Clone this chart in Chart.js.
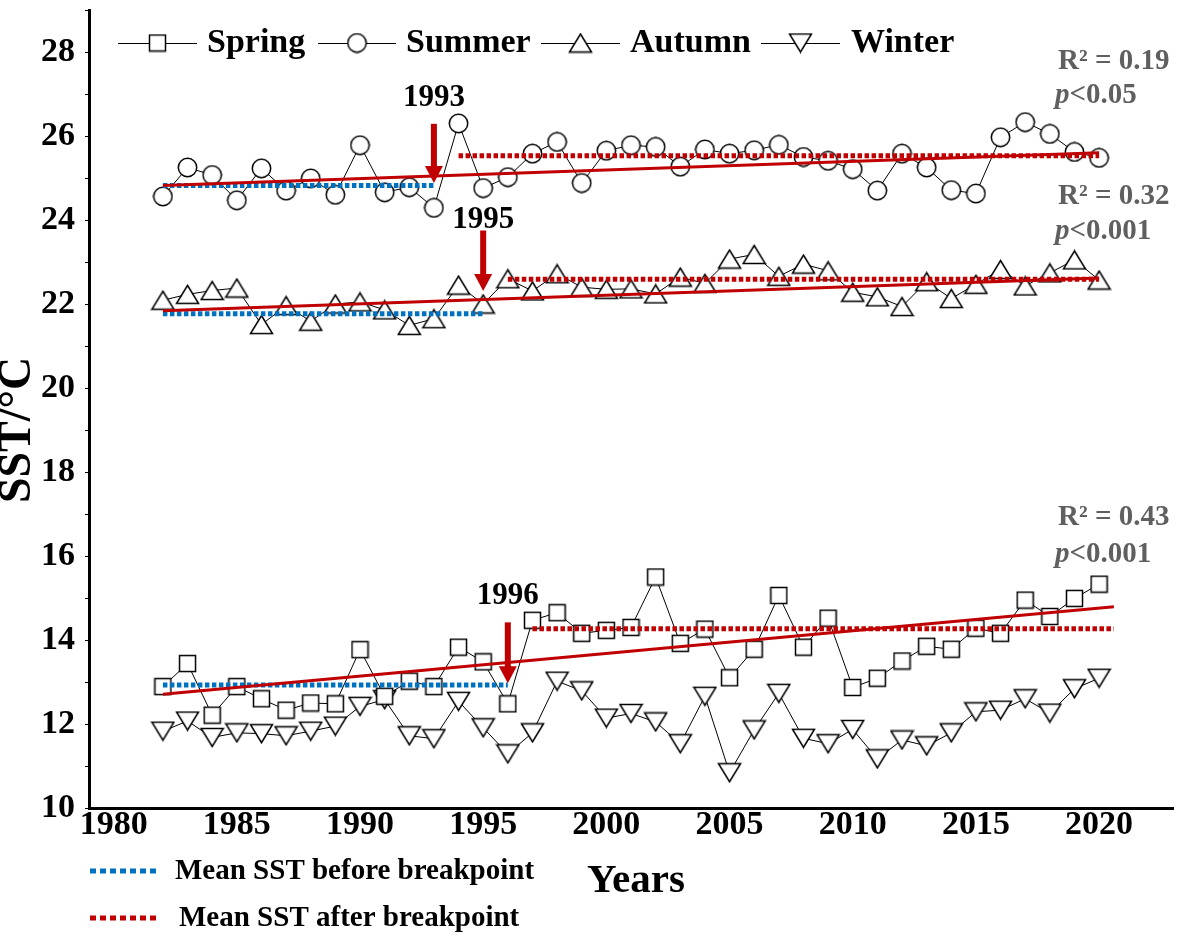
<!DOCTYPE html>
<html><head><meta charset="utf-8">
<script src="https://cdn.jsdelivr.net/npm/chart.js@4.4.0/dist/chart.umd.min.js"></script>
<style>html,body{margin:0;padding:0;background:#fff;}canvas{display:block}</style>
</head><body>
<canvas id="c" width="1183" height="936" style="width:1183px;height:936px"></canvas>
<script>
// ---------------- data ----------------
const years = [1982,1983,1984,1985,1986,1987,1988,1989,1990,1991,1992,1993,1994,1995,1996,1997,1998,1999,2000,
  2001,2002,2003,2004,2005,2006,2007,2008,2009,2010,2011,2012,2013,2014,2015,2016,2017,2018,2019,2020];
const spring = [12.89,13.44,12.21,12.89,12.60,12.33,12.50,12.48,13.77,12.66,13.02,12.89,13.83,13.48,12.48,14.47,14.65,14.16,14.23,
  14.30,15.50,13.92,14.26,13.10,13.78,15.06,13.83,14.52,12.87,13.09,13.50,13.85,13.78,14.28,14.16,14.95,14.56,14.99,15.33];
const summer = [24.56,25.25,25.07,24.47,25.23,24.70,24.99,24.60,25.78,24.66,24.78,24.29,26.30,24.76,25.02,25.58,25.86,24.88,25.65,
  25.78,25.74,25.27,25.68,25.58,25.66,25.79,25.50,25.41,25.21,24.70,25.58,25.25,24.71,24.63,25.97,26.33,26.05,25.62,25.48];
const autumn = [22.09,22.23,22.32,22.38,21.51,21.96,21.59,22.00,22.05,21.86,21.49,21.65,22.45,22.00,22.60,22.31,22.72,22.40,22.35,
  22.36,22.24,22.64,22.49,23.07,23.18,22.66,22.95,22.79,22.28,22.17,21.94,22.53,22.13,22.47,22.82,22.43,22.74,23.05,22.57];
const winter = [11.83,12.07,11.68,11.79,11.77,11.72,11.83,11.95,12.42,12.58,11.72,11.65,12.54,11.91,11.29,11.79,13.02,12.79,12.14,
  12.25,12.05,11.53,12.66,10.84,11.86,12.73,11.66,11.53,11.87,11.17,11.62,11.48,11.79,12.29,12.33,12.60,12.26,12.84,13.09];

// linear trends (start/end)
const trendSpringX = [1982, 2020.6], trendSpringY = [12.71, 14.79];
const trendSummerX = [1982, 2020],   trendSummerY = [24.82, 25.60];
const trendAutumnX = [1982, 2020],   trendAutumnY = [21.84, 22.62];
// mean before / after breakpoint
const springBeforeX = [1982, 1996], springBeforeY = [12.93, 12.93];
const springAfterX  = [1997, 2020.6], springAfterY = [14.27, 14.27];
const summerBeforeX = [1982, 1993], summerBeforeY = [24.82, 24.82];
const summerAfterX  = [1994, 2020], summerAfterY  = [25.53, 25.53];
const autumnBeforeX = [1982, 1995], autumnBeforeY = [21.77, 21.77];
const autumnAfterX  = [1996, 2020], autumnAfterY  = [22.59, 22.59];

// breakpoints
const breakYears = [1993, 1995, 1996];
const breakArrowTop = [26.29, 23.75, 14.42];
const breakArrowTip = [24.88, 22.31, 12.97];
const breakLabelY = [26.91, 24.01, 15.05];

const statR2 = ['R\u00B2 = 0.19', 'R\u00B2 = 0.32', 'R\u00B2 = 0.43'];
const statP = ['<0.05', '<0.001', '<0.001'];

const xTickLabels = [1980,1985,1990,1995,2000,2005,2010,2015,2020];
const yTickLabels = [10,12,14,16,18,20,22,24,26,28];
const seriesNames = ['Spring','Summer','Autumn','Winter'];

// ---------------- styles ----------------
const FONT = '"Liberation Serif","Times New Roman",serif';
const RED = '#C00000', BLUE = '#0070C0', GRAY = '#5f5f5f';
const DOT = [4.5, 2.5];

function marker(type) {
  const c = document.createElement('canvas');
  const g = c.getContext('2d');
  if (type === 'square') {
    c.width = 19; c.height = 19;
    g.fillStyle = '#fff'; g.strokeStyle = '#000'; g.lineWidth = 1.5;
    g.fillRect(1.5, 1.5, 16, 16); g.strokeRect(1.5, 1.5, 16, 16);
  } else if (type === 'circle') {
    c.width = 21; c.height = 21;
    g.fillStyle = '#fff'; g.strokeStyle = '#000'; g.lineWidth = 1.5;
    g.beginPath(); g.arc(10.5, 10.5, 9.2, 0, Math.PI * 2); g.fill(); g.stroke();
  } else {
    c.width = 25; c.height = 21;
    g.fillStyle = '#fff'; g.strokeStyle = '#000'; g.lineWidth = 1.5;
    g.beginPath();
    if (type === 'up') { g.moveTo(12.5, 1.5); g.lineTo(23.5, 19.5); g.lineTo(1.5, 19.5); }
    else { g.moveTo(1.5, 1.5); g.lineTo(23.5, 1.5); g.lineTo(12.5, 19.5); }
    g.closePath(); g.fill(); g.stroke();
  }
  return c;
}
const markers = [marker('square'), marker('circle'), marker('up'), marker('down')];

const pts = (xs, ys) => xs.map((x, i) => ({x: x, y: ys[i]}));

function series(name, vals, m) {
  return {label: name, data: pts(years, vals), borderColor: '#000', borderWidth: 1,
    pointStyle: m, pointRadius: 9, pointHoverRadius: 9, order: 3, fill: false, tension: 0};
}
function lineDs(xs, ys, color, width, dash, order) {
  return {label: '', data: pts(xs, ys), borderColor: color, borderWidth: width, borderDash: dash,
    borderCapStyle: 'butt', pointRadius: 0, pointHoverRadius: 0, order: order, fill: false};
}

const datasets = [
  series(seriesNames[0], spring, markers[0]),
  series(seriesNames[1], summer, markers[1]),
  series(seriesNames[2], autumn, markers[2]),
  series(seriesNames[3], winter, markers[3]),
  lineDs(springBeforeX, springBeforeY, BLUE, 5, DOT, 2),
  lineDs(summerBeforeX, summerBeforeY, BLUE, 5, DOT, 2),
  lineDs(autumnBeforeX, autumnBeforeY, BLUE, 5, DOT, 2),
  lineDs(springAfterX, springAfterY, RED, 5, DOT, 2),
  lineDs(summerAfterX, summerAfterY, RED, 5, DOT, 2),
  lineDs(autumnAfterX, autumnAfterY, RED, 5, DOT, 2),
  lineDs(trendSpringX, trendSpringY, RED, 3, [], 1),
  lineDs(trendSummerX, trendSummerY, RED, 3, [], 1),
  lineDs(trendAutumnX, trendAutumnY, RED, 3, [], 1)
];

function bold(size, italic) { return (italic ? 'italic ' : '') + 'bold ' + size + 'px ' + FONT; }

const extras = {
  id: 'extras',
  afterDatasetsDraw(chart) {
    const ctx = chart.ctx, xs = chart.scales.x, ys = chart.scales.y;
    ctx.save();
    breakYears.forEach((yr, i) => {
      const x = xs.getPixelForValue(yr);
      const yTop = ys.getPixelForValue(breakArrowTop[i]);
      const yTip = ys.getPixelForValue(breakArrowTip[i]);
      const headLen = 17, shaftW = 6, headW = 18;
      ctx.fillStyle = RED;
      ctx.fillRect(x - shaftW / 2, yTop, shaftW, yTip - headLen - yTop + 1);
      ctx.beginPath();
      ctx.moveTo(x - headW / 2, yTip - headLen);
      ctx.lineTo(x + headW / 2, yTip - headLen);
      ctx.lineTo(x, yTip);
      ctx.closePath(); ctx.fill();
      ctx.fillStyle = '#000';
      ctx.font = bold(31);
      ctx.textAlign = 'center'; ctx.textBaseline = 'middle';
      ctx.fillText(String(yr), x, ys.getPixelForValue(breakLabelY[i]));
    });
    ctx.restore();
  },
  afterDraw(chart) {
    const ctx = chart.ctx;
    ctx.save();
    // top legend
    const legendItems = [
      {x0: 118, x1: 197, tx: 207},
      {x0: 318, x1: 396, tx: 406},
      {x0: 541, x1: 620, tx: 630},
      {x0: 761, x1: 840, tx: 851}
    ];
    const ly = 43;
    legendItems.forEach((it, i) => {
      ctx.strokeStyle = '#000'; ctx.lineWidth = 1;
      ctx.beginPath(); ctx.moveTo(it.x0, ly + 0.5); ctx.lineTo(it.x1, ly + 0.5); ctx.stroke();
      const m = markers[i];
      ctx.drawImage(m, (it.x0 + it.x1) / 2 - m.width / 2, ly - m.height / 2);
      ctx.fillStyle = '#000'; ctx.font = bold(34);
      ctx.textAlign = 'left'; ctx.textBaseline = 'middle';
      ctx.fillText(seriesNames[i], it.tx, ly);
    });
    // statistics
    const statY = [[62, 96], [197, 232], [518, 555]];
    statY.forEach((p, i) => {
      ctx.fillStyle = GRAY; ctx.textAlign = 'left'; ctx.textBaseline = 'middle';
      ctx.font = bold(29);
      ctx.fillText(statR2[i], 1058, p[0]);
      ctx.font = bold(29, true);
      ctx.fillText('p', 1055, p[1]);
      const w = ctx.measureText('p').width;
      ctx.font = bold(29);
      ctx.fillText(statP[i], 1055 + w, p[1]);
    });
    // axis titles
    ctx.fillStyle = '#000';
    ctx.font = bold(41); ctx.textAlign = 'center'; ctx.textBaseline = 'middle';
    ctx.fillText('Years', 636, 881);
    ctx.save();
    ctx.translate(18, 430); ctx.rotate(-Math.PI / 2);
    ctx.font = bold(46);
    ctx.fillText('SST/\u00B0C', 0, 0);
    ctx.restore();
    // bottom legend
    const bl = [{c: BLUE, y: 871, t: 'Mean SST before breakpoint', tx: 175},
                {c: RED, y: 918, t: 'Mean SST after breakpoint', tx: 179}];
    bl.forEach(b => {
      ctx.strokeStyle = b.c; ctx.lineWidth = 5; ctx.setLineDash([6, 4]); ctx.lineCap = 'butt';
      ctx.beginPath(); ctx.moveTo(90, b.y); ctx.lineTo(158, b.y); ctx.stroke();
      ctx.setLineDash([]);
      ctx.fillStyle = '#000'; ctx.font = bold(29); ctx.textAlign = 'left'; ctx.textBaseline = 'middle';
      ctx.fillText(b.t, b.tx, b.y + 1);
    });
    ctx.restore();
  }
};

new Chart(document.getElementById('c'), {
  type: 'line',
  data: {datasets: datasets},
  options: {
    responsive: false, animation: false, devicePixelRatio: 1,
    layout: {padding: {left: 0, right: 2, top: 0, bottom: 0}},
    plugins: {legend: {display: false}, tooltip: {enabled: false}},
    elements: {line: {tension: 0}},
    scales: {
      x: {
        type: 'linear', min: 1979, max: 2023,
        afterBuildTicks: s => { s.ticks = xTickLabels.map(v => ({value: v})); },
        ticks: {autoSkip: false, maxRotation: 0, minRotation: 0, color: '#000', padding: 0,
          font: {family: FONT, size: 34, weight: 'bold', lineHeight: 1},
          callback: v => String(v)},
        grid: {display: false, drawTicks: false},
        border: {display: true, color: '#000', width: 3},
        afterFit: s => { s.height = 128; s.paddingLeft = 0; s.paddingRight = 0; }
      },
      y: {
        type: 'linear', min: 10, max: 29,
        ticks: {stepSize: 1, autoSkip: false, color: '#000', padding: 10,
          font: {family: FONT, size: 34, weight: 'bold', lineHeight: 1},
          callback: v => yTickLabels.includes(v) ? String(v) : ''},
        grid: {display: true, drawOnChartArea: false, drawTicks: true, tickLength: 4, color: '#000', lineWidth: 1},
        border: {display: true, color: '#000', width: 3},
        afterFit: s => { s.width = 89; s.paddingTop = 0; s.paddingBottom = 0; }
      }
    }
  },
  plugins: [extras]
});
</script>
</body></html>
